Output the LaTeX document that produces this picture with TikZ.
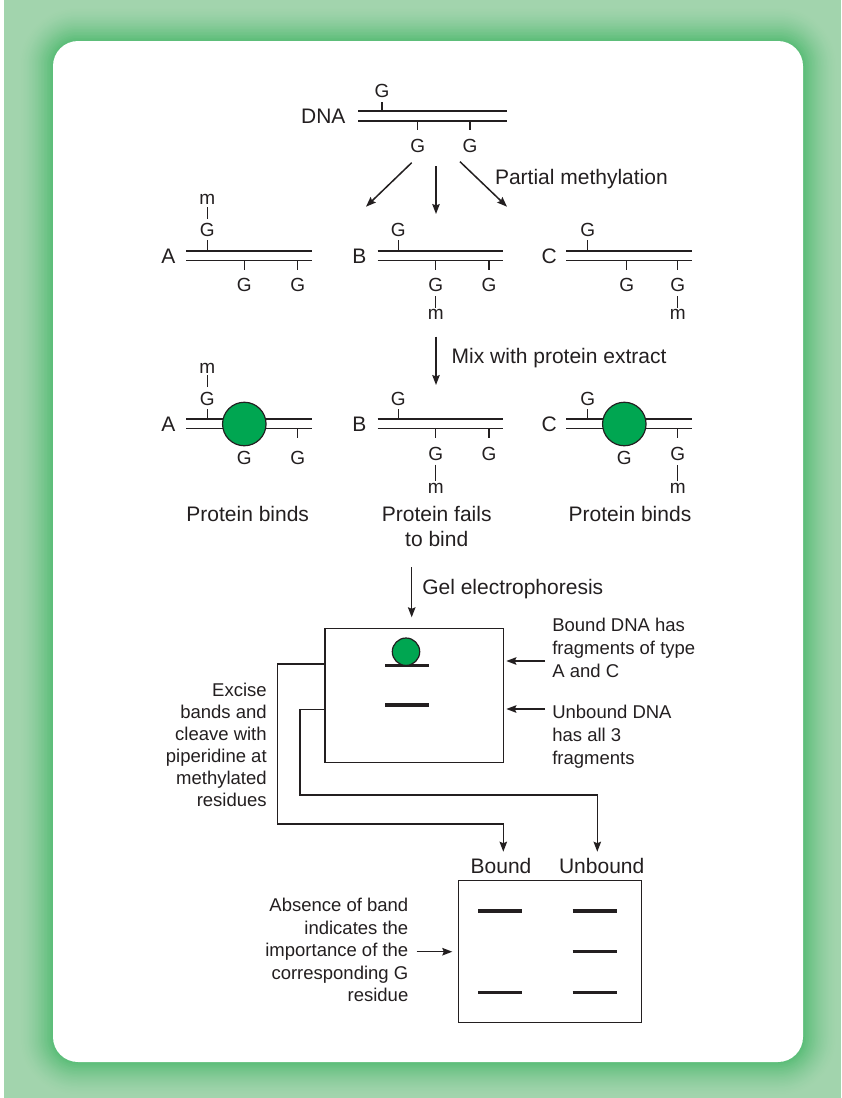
\documentclass[tikz,border=0pt]{standalone}
\usepackage{fontspec}
\setmainfont{Liberation Sans}
\usetikzlibrary{arrows.meta}
\definecolor{ink}{HTML}{231F20}
\definecolor{paleframe}{HTML}{A2D4AD}
\definecolor{deepframe}{HTML}{58BC76}
\definecolor{protein}{HTML}{00A651}

\begin{document}
\begin{tikzpicture}[x=1pt,y=-1pt,
  every node/.style={inner sep=0pt, outer sep=0pt, text=ink},
  lab/.style={font=\fontsize{21}{25}\selectfont, text height=15pt, text depth=0pt},
  gl/.style={font=\fontsize{19}{22}\selectfont, text height=13.6pt, text depth=0pt},
  ml/.style={font=\fontsize{19}{22}\selectfont, text height=9.9pt, text depth=0pt},
  strand/.style={draw=ink, line width=1.6pt},
  tick/.style={draw=ink, line width=1.5pt},
  link/.style={draw=ink, line width=1.4pt, shorten <=4.5pt, shorten >=2pt},
  arr/.style={draw=ink, line width=1.5pt, -{Stealth[length=10pt,width=7.5pt,inset=1.5pt]}},
  band/.style={draw=ink, line width=3.2pt},
  protein/.style={circle, fill=protein, draw=ink, line width=1.2pt, minimum size=43.5pt},
  gelbox/.style={draw=ink, line width=1.5pt, fill=white},
  duplex/.pic={\draw[strand] (0,0) -- (125.7,0) (0,9.5) -- (125.7,9.5);},
]
\useasboundingbox (0,0) rectangle (841,1098);

% frame with soft green glow around the white panel
\fill[white] (0,0) rectangle (841,1098);
\fill[paleframe] (4,0) rectangle (841,1098);
\foreach \k [evaluate=\k as \d using 36-1.5*\k,
             evaluate=\k as \r using 61-1.5*\k,
             evaluate=\k as \p using int(100*(\k/24)^1.6)] in {0,...,24}
  \fill[deepframe!\p!paleframe, rounded corners=\r pt]
    (53-\d,41-\d) rectangle (803+\d,1062+\d);
\fill[white, rounded corners=25pt] (53,41) rectangle (803,1062);

% ---------- unmethylated DNA ----------
\node[lab, anchor=east] (dna) at (345.5,116.3) {DNA};
\draw[strand] (358,111) -- (507,111) (358,121) -- (507,121);
\draw[tick] (382,111) -- (382,101.5);
\node[gl] (g0a) at (382,91) {G};
\draw[tick] (417.7,121) -- (417.7,130) (470,121) -- (470,130);
\node[gl] (g0b) at (417.7,146) {G};
\node[gl] (g0c) at (470,146) {G};

\coordinate (pmL0) at (411.7,162.7); \coordinate (pmL1) at (366,206.7);
\coordinate (pmM0) at (436,166);     \coordinate (pmM1) at (436,214);
\coordinate (pmR0) at (460,161.7);   \coordinate (pmR1) at (507,206.7);
\draw[arr] (pmL0) -- (pmL1);
\draw[arr] (pmM0) -- (pmM1);
\draw[arr] (pmR0) -- (pmR1);
\node[lab, anchor=west] (pm) at (495,177) {Partial methylation};

% ---------- methylated fragments ----------
% A
\node[lab] (A1) at (168.3,256) {A};
\pic at (186,251) {duplex};
\draw[tick] (207.3,251) -- (207.3,240);
\node[gl] (A1g1) at (207.3,230) {G};
\node[ml] (A1m) at (207.3,200) {m};
\draw[link] (A1g1.north) -- (A1m.south);
\draw[tick] (244.3,260.5) -- (244.3,269.5) (297.7,260.5) -- (297.7,269.5);
\node[gl] (A1g2) at (244.3,285) {G};
\node[gl] (A1g3) at (297.7,285) {G};
% B
\node[lab] (B1) at (359.3,256) {B};
\pic at (377.7,251) {duplex};
\draw[tick] (398.3,251) -- (398.3,240);
\node[gl] (B1g1) at (398.3,230) {G};
\draw[tick] (435.7,260.5) -- (435.7,269.5) (489,260.5) -- (489,269.5);
\node[gl] (B1g2) at (435.7,285) {G};
\node[gl] (B1g3) at (489,285) {G};
\node[ml] (B1m) at (435.7,315) {m};
\draw[link] (B1g2.south) -- (B1m.north);
% C
\node[lab] (C1) at (549.3,256) {C};
\pic at (566,251) {duplex};
\draw[tick] (587.7,251) -- (587.7,240);
\node[gl] (C1g1) at (587.7,230) {G};
\draw[tick] (626.7,260.5) -- (626.7,269.5) (677.7,260.5) -- (677.7,269.5);
\node[gl] (C1g2) at (626.7,285) {G};
\node[gl] (C1g3) at (677.7,285) {G};
\node[ml] (C1m) at (677.7,315) {m};
\draw[link] (C1g3.south) -- (C1m.north);

\coordinate (mix0) at (436,336.7); \coordinate (mix1) at (436,385);
\draw[arr] (mix0) -- (mix1);
\node[lab, anchor=west] (mix) at (451.7,356) {Mix with protein extract};

% ---------- binding ----------
% A
\node[lab] (A2) at (168.3,424) {A};
\pic at (186,419) {duplex};
\draw[tick] (207.3,419) -- (207.3,409.3);
\node[gl] (A2g1) at (207.3,398.3) {G};
\node[ml] (A2m) at (207.3,368.3) {m};
\draw[link] (A2g1.north) -- (A2m.south);
\node[protein] (A2p) at (244.3,424) {};
\node[gl] (A2g2) at (244.3,457.7) {G};
\draw[tick] (297.7,428.5) -- (297.7,438.3);
\node[gl] (A2g3) at (297.7,457.7) {G};
% B
\node[lab] (B2) at (359.3,424) {B};
\pic at (377.7,419) {duplex};
\draw[tick] (398.3,419) -- (398.3,409.3);
\node[gl] (B2g1) at (398.3,398.3) {G};
\draw[tick] (435.7,428.5) -- (435.7,438.3) (489,428.5) -- (489,438.3);
\node[gl] (B2g2) at (435.7,453.3) {G};
\node[gl] (B2g3) at (489,453.3) {G};
\node[ml] (B2m) at (435.7,488.3) {m};
\draw[link] (B2g2.south) -- (B2m.north);
% C
\node[lab] (C2) at (549.3,424) {C};
\pic at (566,419) {duplex};
\draw[tick] (587.7,419) -- (587.7,409.3);
\node[gl] (C2g1) at (587.7,398.3) {G};
\node[protein] (C2p) at (624.3,424) {};
\node[gl] (C2g2) at (624.3,457.7) {G};
\draw[tick] (677.7,428.5) -- (677.7,438.3);
\node[gl] (C2g3) at (677.7,454) {G};
\node[ml] (C2m) at (677.7,488.3) {m};
\draw[link] (C2g3.south) -- (C2m.north);

\node[lab] (bindA) at (247.7,514) {Protein binds};
% multi-line nodes: the base anchor sits on the last line
\node[font=\fontsize{21}{25.3}\selectfont, align=center, anchor=base] (failB)
  at (436.7,546.8) {Protein fails\\to bind};
\node[lab] (bindC) at (630,514) {Protein binds};

% ---------- gel shift ----------
\coordinate (gel0) at (411.7,567.3);
\node[gelbox, minimum width=178.3pt, minimum height=134pt] (gel) at (414.2,695.3) {};
\draw[arr, shorten >=11pt] (gel0) -- (gel.north -| gel0);
\node[lab, anchor=west] (gellab) at (422.3,586.7) {Gel electrophoresis};

\draw[band] (385,665.3) -- (429,665.3);
\draw[band] (385,705) -- (429,705);
\node[protein, minimum size=27.4pt] (ball) at (406,651.7) {};

\coordinate (bnote) at (545,661);
\coordinate (unote) at (545,709);
\draw[arr] (bnote) -- ([xshift=3pt]bnote -| gel.east);
\draw[arr] (unote) -- ([xshift=3pt]unote -| gel.east);
\node[font=\fontsize{18.5}{23}\selectfont, align=left, anchor=base west] (bdesc)
  at (552.3,677) {Bound DNA has\\fragments of type\\A and C};
\node[font=\fontsize{18.5}{23}\selectfont, align=left, anchor=base west] (udesc)
  at (552.3,764.3) {Unbound DNA\\has all 3\\fragments};
\node[font=\fontsize{18.5}{22}\selectfont, align=right, anchor=base east] (excise)
  at (266.7,806.6) {Excise\\bands and\\cleave with\\piperidine at\\methylated\\residues};

% ---------- cleavage products ----------
\node[lab] (bound) at (501,866) {Bound};
\node[lab] (unbound) at (601.7,866) {Unbound};
\node[gelbox, minimum width=183.4pt, minimum height=142pt] (seq) at (550,951.7) {};

\coordinate (outB) at (325,664);
\coordinate (outU) at (325,709.3);
\coordinate (tipB) at (503.3,851.7);
\coordinate (tipU) at (597.3,851.7);
\draw[arr] (outB) -- (277.3,664) -- (277.3,824) -- (503.3,824) -- (tipB);
\draw[arr] (outU) -- (300,709.3) -- (300,795) -- (597.3,795) -- (tipU);

\draw[band] (478.3,911) -- (521.7,911);
\draw[band] (478.3,992.3) -- (521.7,992.3);
\draw[band] (572.7,911) -- (616.7,911);
\draw[band] (572.7,951.7) -- (616.7,951.7);
\draw[band] (572.7,992.3) -- (616.7,992.3);

\node[font=\fontsize{18.5}{22.5}\selectfont, align=right, anchor=base east] (absence)
  at (408.3,1001.6) {Absence of band\\indicates the\\importance of the\\corresponding G\\residue};
\coordinate (abs0) at (416.7,951.7);
\draw[arr] (abs0) -- ([xshift=-6pt]abs0 -| seq.west);
\end{tikzpicture}
\end{document}
